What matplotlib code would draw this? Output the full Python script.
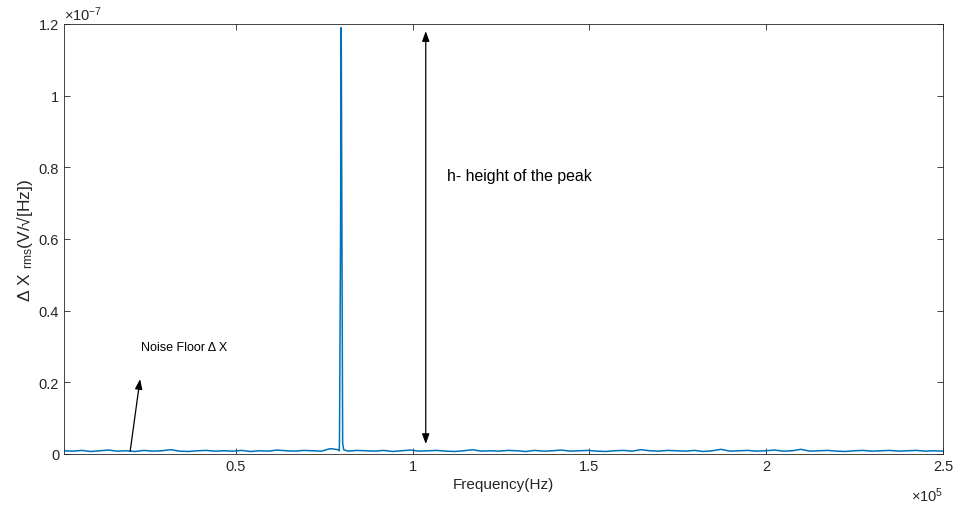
import numpy as np
import matplotlib
matplotlib.use("Agg")
import matplotlib.pyplot as plt
from matplotlib.ticker import FuncFormatter

plt.rcParams['font.family'] = ['Liberation Sans', 'DejaVu Sans']
plt.rcParams['mathtext.fontset'] = 'custom'
plt.rcParams['mathtext.rm'] = 'Liberation Sans'
plt.rcParams['mathtext.it'] = 'Liberation Sans'

# noise floor (units of 1e-9 V/sqrt(Hz)), on an even frequency grid
noise_vals = [0.9, 0.8, 1.0, 0.7, 0.9, 1.1, 0.8, 0.9, 0.7, 1.0,
              0.8, 0.9, 1.2, 0.8, 0.7, 0.9, 1.0, 0.8, 0.9, 0.8,
              1.0, 0.7, 0.9, 0.8, 1.1, 0.9, 0.8, 1.0, 0.9, 0.8,
              1.5, 0.9, 0.8, 1.0, 0.9, 0.8, 1.0, 0.7, 0.9, 1.1,
              0.8, 0.9, 1.0, 0.8, 0.7, 0.9, 1.2, 0.8, 0.9, 0.8,
              1.0, 0.9, 0.7, 1.0, 0.8, 0.9, 1.1, 0.8, 0.9, 1.0,
              0.8, 0.7, 0.9, 1.0, 0.8, 1.2, 0.9, 0.8, 1.0, 0.9,
              0.8, 1.0, 0.7, 0.9, 1.3, 0.8, 0.9, 1.0, 0.8, 0.9,
              1.1, 0.8, 0.9, 1.3, 0.8, 0.9, 1.0, 0.8, 0.7, 0.9,
              1.0, 0.8, 0.9, 1.0, 0.8, 0.9, 1.0, 0.8, 0.9, 0.8]
noise_freq = np.linspace(1400, 250000, len(noise_vals))

# resonance peak
peak_freq = [78900, 79300, 79600, 79800, 80000, 80200, 80500]
peak_vals = [1.2, 3.0, 60.0, 119.0, 60.0, 3.0, 1.2]

freq = np.concatenate([noise_freq, peak_freq])
vals = np.concatenate([noise_vals, peak_vals]) * 1e-9
order = np.argsort(freq)
freq, vals = freq[order], vals[order]

fig = plt.figure(figsize=(9.56, 5.06), dpi=100)
ax = fig.add_axes([0.067, 0.1008, 0.9194, 0.8498])
ax.plot(freq, vals, color='#0072BD', lw=1.1)

ax.set_xlim(1400, 250000)
ax.set_ylim(0, 1.2e-7)
ax.set_xticks([50000, 100000, 150000, 200000, 250000])
ax.set_yticks(np.arange(0, 1.21e-7, 0.2e-7))
ax.xaxis.set_major_formatter(FuncFormatter(lambda v, p: '%g' % round(v / 1e5, 3)))
ax.yaxis.set_major_formatter(FuncFormatter(lambda v, p: '%g' % round(v / 1e-7, 3)))
ax.tick_params(direction='in', top=True, right=True, length=4, width=0.6,
               labelsize=10.5, color='#262626', labelcolor='#262626')
for s in ax.spines.values():
    s.set_color('#262626')
    s.set_linewidth(0.6)

ax.set_xlabel('Frequency(Hz)', fontsize=11, color='#262626', labelpad=3)
ax.set_ylabel('\u0394 X $_{\\rm rms}$(V/\u221a[Hz])', fontsize=12.5, color='#262626', labelpad=3)

ax.text(0.0, 1.003, '\u00d710$^{-7}$', transform=ax.transAxes, fontsize=10.5,
        color='#262626', ha='left', va='bottom')
ax.text(1.0, -0.094, '\u00d710$^{5}$', transform=ax.transAxes, fontsize=10.5,
        color='#262626', ha='right', va='center')

# double arrow for peak height
ax.annotate('', xy=(103700, 1.18e-7), xytext=(103700, 0.028e-7),
            arrowprops=dict(arrowstyle='<|-|>,head_length=0.6,head_width=0.22',
                            color='black', lw=0.9, mutation_scale=10,
                            shrinkA=0, shrinkB=0))
ax.text(109600, 0.776e-7, 'h- height of the peak', fontsize=11.4, va='center', ha='left')

# noise floor arrow
ax.annotate('', xy=(22900, 0.209e-7), xytext=(20100, 0.008e-7),
            arrowprops=dict(arrowstyle='-|>,head_length=0.6,head_width=0.22',
                            color='black', lw=0.9, mutation_scale=10,
                            shrinkA=0, shrinkB=0))
ax.text(23100, 0.299e-7, 'Noise Floor \u0394 X', fontsize=9, va='center', ha='left')

fig.savefig('out.png', dpi=100)
